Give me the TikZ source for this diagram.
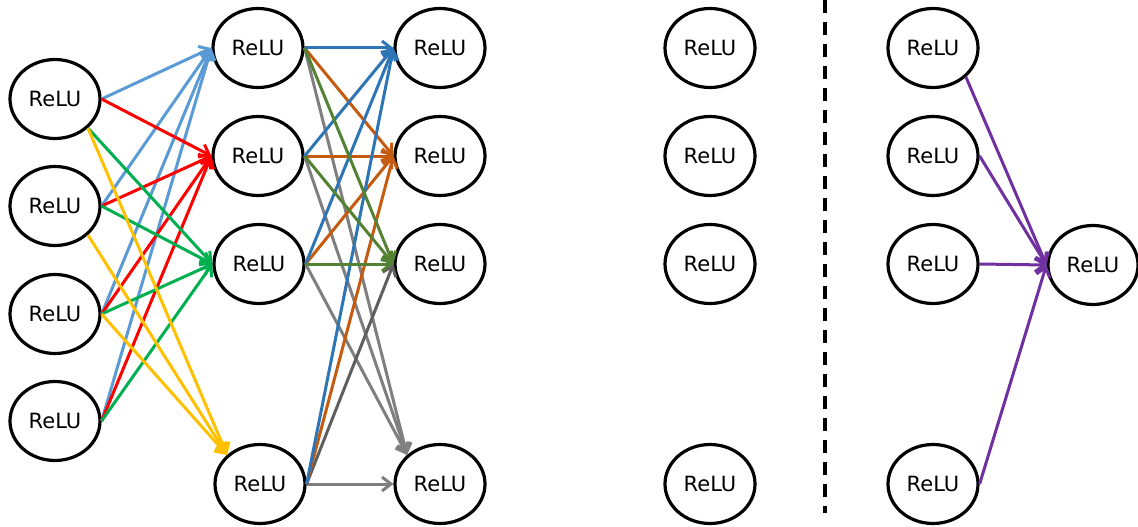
\documentclass[tikz,border=0pt]{standalone}
\usepackage{fontspec}
\setmainfont{DejaVu Sans}
\usetikzlibrary{shapes.geometric,arrows.meta}
\definecolor{clblue}{HTML}{5B9BD5}
\definecolor{cred}{HTML}{FF0000}
\definecolor{cgreen}{HTML}{00B050}
\definecolor{cyellow}{HTML}{FFC000}
\definecolor{cdblue}{HTML}{2E75B6}
\definecolor{corange}{HTML}{C55A11}
\definecolor{cdgreen}{HTML}{548235}
\definecolor{cgray}{HTML}{7F7F7F}
\definecolor{cdgray}{HTML}{5F5F5F}
\definecolor{cpurple}{HTML}{7030A0}
\begin{document}
\begin{tikzpicture}[x=1pt,y=-1pt,
  neuron/.style={ellipse,draw=black,fill=white,line width=3.2pt,minimum width=90pt,minimum height=79pt,inner sep=0pt,font=\fontsize{21}{25}\selectfont},
  conn/.style={line width=3pt,-{Straight Barb[length=9pt,width=14pt]}},
  divider/.style={line width=3.2pt,dash pattern=on 13pt off 9pt}]
\useasboundingbox (0,0) rectangle (1138,527);
% column 1
\node[neuron] (a1) at (55,99) {ReLU};
\node[neuron] (a2) at (55,206) {ReLU};
\node[neuron] (a3) at (55,314) {ReLU};
\node[neuron] (a4) at (55,421) {ReLU};
% column 2
\node[neuron] (b1) at (258,48) {ReLU};
\node[neuron] (b2) at (258,156) {ReLU};
\node[neuron] (b3) at (259,264) {ReLU};
\node[neuron] (b4) at (260,484) {ReLU};
% column 3
\node[neuron] (c1) at (440,48) {ReLU};
\node[neuron] (c2) at (440,156) {ReLU};
\node[neuron] (c3) at (440,264) {ReLU};
\node[neuron] (c4) at (440,484) {ReLU};
% column 4
\node[neuron] (d1) at (710,48) {ReLU};
\node[neuron] (d2) at (710,156) {ReLU};
\node[neuron] (d3) at (710,264) {ReLU};
\node[neuron] (d4) at (710,484) {ReLU};
% column 5
\node[neuron] (e1) at (933,48) {ReLU};
\node[neuron] (e2) at (933,156) {ReLU};
\node[neuron] (e3) at (933,264) {ReLU};
\node[neuron] (e4) at (933,484) {ReLU};
% column 6
\node[neuron] (f) at (1093,265) {ReLU};
% divider
\coordinate (dtop) at (825,0);
\coordinate (dbot) at (825,513);
\draw[divider] (dtop) -- (dbot);
% layer 1 -> 2
\foreach \s in {a1,a2,a3,a4} \draw[conn,clblue] (\s.east) -- (b1.west);
\foreach \s in {a1,a2,a3,a4} \draw[conn,cred] (\s.east) -- (b2.west);
\draw[conn,cgreen] (a1.south east) -- (b3.west);
\foreach \s in {a2,a3,a4} \draw[conn,cgreen] (\s.east) -- (b3.west);
\draw[conn,cyellow] (a1.south east) -- (b4.north west);
\draw[conn,cyellow] (a2.south east) -- (b4.north west);
\draw[conn,cyellow] (a3.east) -- (b4.north west);
% layer 2 -> 3
\foreach \s in {b1,b2,b3} \draw[conn,cgray] (\s.east) -- (c4.north west);
\draw[conn,cgray] (b4.east) -- (c4.west);
\draw[conn,cdgray] (b4.east) -- (c3.west);
\foreach \s in {b1,b2,b3,b4} \draw[conn,corange] (\s.east) -- (c2.west);
\foreach \s in {b1,b2,b3,b4} \draw[conn,cdblue] (\s.east) -- (c1.west);
\foreach \s in {b1,b2,b3} \draw[conn,cdgreen] (\s.east) -- (c3.west);
% right part
\draw[conn,cpurple] (e1.south east) -- (f.west);
\foreach \s in {e2,e3,e4} \draw[conn,cpurple] (\s.east) -- (f.west);
\end{tikzpicture}
\end{document}
